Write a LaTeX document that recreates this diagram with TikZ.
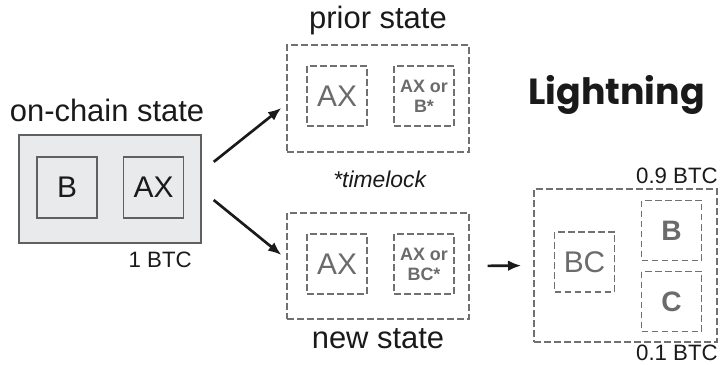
\documentclass[tikz,border=0pt]{standalone}
\usepackage{fontspec}
\setmainfont{Liberation Sans}
\newfontfamily\titlefont{Poppins}
\usepackage{xcolor}
\usetikzlibrary{arrows.meta,positioning,calc}
\definecolor{chainfill}{HTML}{E8EAEB}
\definecolor{edgegray}{HTML}{606060}
\definecolor{dashgray}{HTML}{707070}
\definecolor{textgray}{HTML}{6B6B6B}
\definecolor{ink}{HTML}{1A1A1A}

\begin{document}
\begin{tikzpicture}[
      every node/.style={text=ink},
      chainbox/.style={draw=edgegray,fill=chainfill,line width=0.045cm,minimum width=5.46cm,minimum height=3.24cm,inner sep=0pt},
      chainslot/.style={draw=edgegray,fill=chainfill,line width=0.045cm,minimum width=1.8cm,minimum height=1.83cm,inner sep=0pt,font=\fontsize{25.5}{27}\selectfont},
      dashbox/.style={draw=dashgray,dash pattern=on 0.2cm off 0.1cm,line width=0.04cm,inner sep=0pt},
      dashslot/.style={dashbox,minimum width=1.8cm,minimum height=1.8cm,text=textgray,align=center},
      biglabel/.style={anchor=base,inner sep=0pt,font=\fontsize{26.4}{28}\selectfont},
      btclabel/.style={anchor=base east,inner sep=0pt,font=\fontsize{19}{21}\selectfont},
      arr/.style={-{Latex[length=0.4cm,width=0.32cm]}, line width=0.08cm, draw=ink}
  ]
    \useasboundingbox (0,0) rectangle (21.69,-10.95);

    \node[chainbox] (onchain) at (3.30,-5.67) {};
    \node[chainslot] (chainB) at (2.01,-5.625) {B};
    \node[chainslot] (chainAX) at (4.605,-5.625) {AX};
    \node[biglabel] (onchainlbl) at (3.21,-3.66) {on-chain state};
    \node[btclabel] (onebtc) at (5.76,-8.01) {1 BTC};

    \node[dashbox,minimum width=5.46cm,minimum height=3.21cm] (prior) at (11.34,-2.955) {};
    \node[dashslot,font=\fontsize{25.5}{27}\selectfont] (priorAX) at (10.11,-2.88) {AX};
    \node[dashslot,font=\bfseries\fontsize{15.3}{17}\selectfont] (priorOr) at (12.72,-2.88) {AX or\\B*};
    \node[biglabel] (priorlbl) at (11.34,-0.87) {prior state};

    \node[anchor=base,inner sep=0pt,font=\itshape\fontsize{19.5}{21}\selectfont] (timelock) at (11.39,-5.61) {*timelock};

    \node[dashbox,minimum width=5.46cm,minimum height=3.18cm] (new) at (11.34,-7.98) {};
    \node[dashslot,font=\fontsize{25.5}{27}\selectfont] (newAX) at (10.11,-7.92) {AX};
    \node[dashslot,font=\bfseries\fontsize{15.3}{17}\selectfont] (newOr) at (12.72,-7.92) {AX or\\BC*};
    \node[biglabel] (newlbl) at (11.34,-10.44) {new state};

    \node[anchor=base,inner sep=0pt,font=\titlefont\bfseries\fontsize{31}{33}\selectfont] (title) at (18.5,-3.15) {Lightning};

    \node[dashbox,minimum width=5.49cm,minimum height=4.59cm] (ln) at (18.765,-7.965) {};
    \node[dashslot,font=\fontsize{25.5}{27}\selectfont] (lnBC) at (17.535,-7.86) {BC};
    \node[dashslot,font=\bfseries\fontsize{24}{26}\selectfont] (lnB) at (20.145,-6.915) {B};
    \node[dashslot,font=\bfseries\fontsize{24}{26}\selectfont] (lnC) at (20.145,-9.045) {C};
    \node[btclabel] (topbtc) at (21.54,-5.49) {0.9 BTC};
    \node[btclabel] (botbtc) at (21.54,-10.8) {0.1 BTC};

    \draw[arr, shorten <=0.46cm, shorten >=0.19cm] ([yshift=0.528cm]onchain.east) -- ([yshift=-0.165cm]prior.west);
    \draw[arr, shorten <=0.46cm, shorten >=0.19cm] ([yshift=-0.04cm]onchain.east) -- ([yshift=0.21cm]new.west);
    \draw[arr, shorten <=0.54cm, shorten >=0.36cm] (new.east) -- (ln.west);
  \end{tikzpicture}
\end{document}
